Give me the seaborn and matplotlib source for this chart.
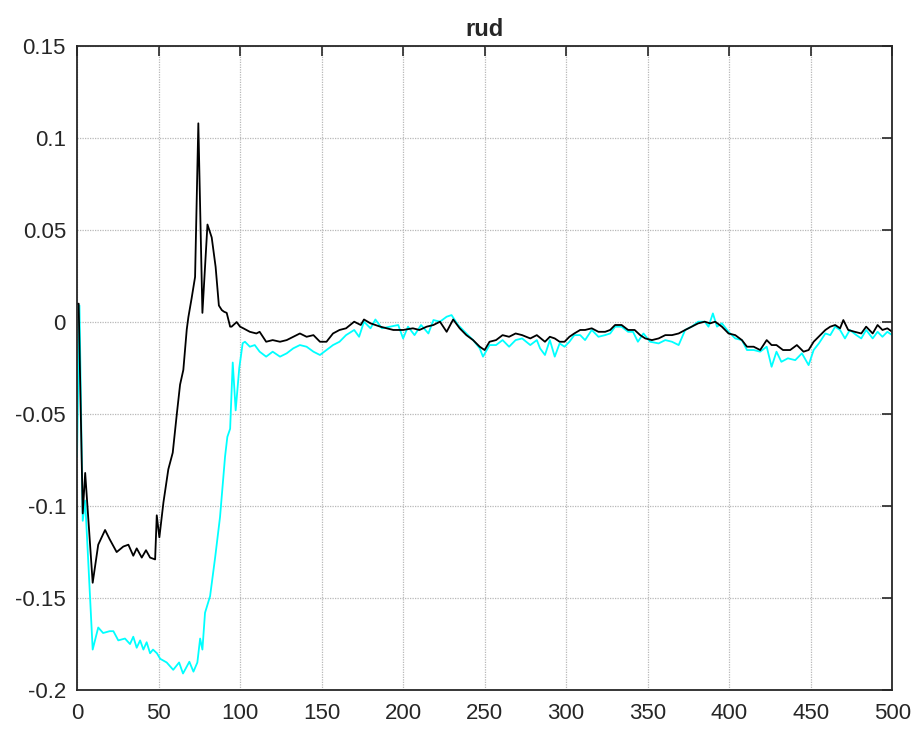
import numpy as np
import pandas as pd
import matplotlib
matplotlib.use("Agg")
import matplotlib.pyplot as plt
import seaborn as sns

# valores
black_t = [0, 1, 3.5, 5, 9.6, 13, 17.2, 20, 24.3, 28.4, 31.5, 34.5, 36.6, 39.7, 42.3, 44.8,
           47.9, 48.9, 50.5, 53, 56, 58.7, 61.2, 63.2, 65.2, 67.3, 68.3, 70.3, 72.4, 74.4,
           76.9, 80, 82.6, 85, 87, 88.8, 90.2, 91.8, 93.9,
           94.8, 97.9, 100, 102, 106, 110, 112, 116, 120, 124.5, 128.6, 132.6, 136.7, 140.8,
           145, 149, 153, 157, 161, 165, 170, 174, 176, 180, 186, 190, 194, 200, 206, 210,
           214.5, 218.6, 222.6, 226.7, 230.7, 234.7, 238.8, 242.9, 247, 250, 253, 257, 261,
           265, 269, 273, 278, 282,
           287, 290, 293, 296, 299, 302, 305, 308.6, 311.6, 315.7, 319.8, 323.9, 327, 330,
           334, 338, 342, 345.4, 348.5, 352.6, 356.7, 360.8, 364.9, 369, 373, 377, 381, 385,
           388.3, 391.4, 395.5, 399.6, 403.7, 407.8, 410.9, 415, 419, 423, 426, 429, 433,
           437.4, 441.5, 445.6, 448.7, 451.8, 455.9, 459, 462, 465, 468, 470, 473, 477, 481,
           484, 488, 491, 494, 497, 500]
black_v = [0.0098, 0.010, -0.104, -0.082, -0.1417, -0.121, -0.113, -0.118, -0.125, -0.122,
           -0.121, -0.127, -0.123, -0.128, -0.124, -0.128, -0.129, -0.105, -0.117, -0.098,
           -0.080, -0.071, -0.050, -0.034, -0.026, -0.004, 0.0027, 0.013, 0.0245, 0.108,
           0.005, 0.053, 0.046, 0.030, 0.009, 0.0065, 0.0056, 0.005, -0.0025,
           -0.0025, 0.0, -0.0025, -0.0034, -0.0053, -0.0062, -0.0053, -0.0107, -0.0098,
           -0.0107, -0.0098, -0.0080, -0.0062, -0.0080, -0.0071, -0.0107, -0.0107, -0.0062,
           -0.0043, -0.0034, 0.0002, -0.0016, 0.0014, -0.0007, -0.0025, -0.0034, -0.0043,
           -0.0043, -0.0034, -0.0043, -0.0025, -0.0016, 0.0002, -0.0053, 0.0014, -0.0034,
           -0.0071, -0.0098, -0.0134, -0.0152, -0.0107, -0.0098, -0.0071, -0.0080, -0.0062,
           -0.0071, -0.0089, -0.0071,
           -0.0107, -0.0080, -0.0089, -0.0107, -0.0107, -0.0080, -0.0062, -0.0043, -0.0043,
           -0.0034, -0.0053, -0.0053, -0.0043, -0.0016, -0.0016, -0.0043, -0.0043, -0.0071,
           -0.0089, -0.0098, -0.0089, -0.0071, -0.0071, -0.0062, -0.0043, -0.0025, -0.0007,
           0.0002, -0.0007, 0.0002, -0.0025, -0.0062, -0.0071, -0.0098, -0.0134, -0.0134,
           -0.0152, -0.0098, -0.0125, -0.0125, -0.0152, -0.0152, -0.0125, -0.0161, -0.0152,
           -0.0107, -0.0071, -0.0043, -0.0025, -0.0016, -0.0034, 0.0011, -0.0043, -0.0053,
           -0.0062, -0.0025, -0.0062, -0.0016, -0.0043, -0.0034, -0.0053]

cyan_t = [0, 1.5, 3.5, 5, 9.6, 13, 16, 20, 22.3, 25.3, 29.4, 32.5, 34.5, 36.6, 38.7, 40.7,
          42.7, 44.8, 46.6, 49, 51, 55, 59, 62.6, 65, 68.9, 71.4, 73.8, 75.5, 76.9, 78.5,
          81.6, 84.7, 87.7, 90.8, 92.2, 93.9, 95.5, 97.3, 99.5, 101.6,
          103, 106, 109, 112, 116, 120, 124.5, 128.6, 132.6, 136.7, 140.8, 145, 149, 153,
          157, 161, 165, 170, 173, 176, 180, 183, 187, 192, 197, 200, 203, 207, 211, 215.5,
          218.6, 222.6, 226.7, 229.7, 233.7, 238.8, 242.9, 247, 249, 253, 257, 261, 265, 269,
          273, 278, 282,
          284, 287, 290, 293, 296, 299, 302, 305, 308.6, 311.6, 315.7, 319.8, 323.9, 327,
          330, 334, 338, 341, 344, 347.4, 351.5, 356.7, 360.8, 364.9, 369, 373, 377, 381,
          385, 387.3, 390, 392.5, 395.5, 399.6, 403.7, 407.8, 410.9, 415, 419, 423, 426,
          429, 432, 436, 440.5, 444.6, 448.7, 451.8, 455, 459, 462, 465, 468, 471, 474, 478,
          481, 484, 488, 491, 494, 497, 500]
cyan_v = [-0.073, 0.009, -0.108, -0.097, -0.178, -0.166, -0.169, -0.168, -0.168, -0.173,
          -0.172, -0.175, -0.171, -0.177, -0.173, -0.178, -0.174, -0.180, -0.178, -0.180,
          -0.183, -0.185, -0.189, -0.185, -0.191, -0.1846, -0.190, -0.185, -0.172, -0.178,
          -0.158, -0.149, -0.128, -0.106, -0.073, -0.0624, -0.058, -0.022, -0.048, -0.025,
          -0.0115,
          -0.0107, -0.0134, -0.0125, -0.0161, -0.0188, -0.0161, -0.0188, -0.0170, -0.0143,
          -0.0125, -0.0134, -0.0161, -0.0179, -0.0152, -0.0125, -0.0107, -0.0071, -0.0043,
          -0.0080, 0.0002, -0.0034, 0.0014, -0.0034, -0.0025, -0.0016, -0.0089, -0.0025,
          -0.0071, -0.0016, -0.0062, 0.0011, 0.0002, 0.0029, 0.0038, -0.0016, -0.0062,
          -0.0098, -0.0143, -0.0188, -0.0125, -0.0125, -0.0098, -0.0134, -0.0098, -0.0089,
          -0.0125, -0.0098,
          -0.0143, -0.0179, -0.0098, -0.0188, -0.0116, -0.0134, -0.0107, -0.0071, -0.0071,
          -0.0098, -0.0043, -0.0080, -0.0071, -0.0062, -0.0025, -0.0025, -0.0053, -0.0053,
          -0.0107, -0.0062, -0.0107, -0.0116, -0.0098, -0.0107, -0.0125, -0.0043, -0.0025,
          0.0002, 0.0002, -0.0025, 0.0047, -0.0025, -0.0007, -0.0053, -0.0089, -0.0098,
          -0.0152, -0.0152, -0.0161, -0.0134, -0.0243, -0.0161, -0.0216, -0.0197, -0.0207,
          -0.0170, -0.0234, -0.0152, -0.0116, -0.0062, -0.0071, -0.0025, -0.0043, -0.0089,
          -0.0043, -0.0071, -0.0089, -0.0043, -0.0089, -0.0053, -0.0080, -0.0053, -0.0071]

x_ticks = [0, 50, 100, 150, 200, 250, 300, 350, 400, 450, 500]
y_ticks = [-0.2, -0.15, -0.1, -0.05, 0, 0.05, 0.1, 0.15]
y_labels = ["-0.2", "-0.15", "-0.1", "-0.05", "0", "0.05", "0.1", "0.15"]

sns.set_style("white")
plt.rcParams['font.family'] = ['Liberation Sans', 'DejaVu Sans']
plt.rcParams['axes.unicode_minus'] = False

df_black = pd.DataFrame({"t": black_t, "v": black_v})
df_cyan = pd.DataFrame({"t": cyan_t, "v": cyan_v})

fig = plt.figure(figsize=(9.17, 7.31), dpi=100)
ax = fig.add_axes([0.084, 0.056, 0.889, 0.881])

sns.lineplot(data=df_cyan, x="t", y="v", color="#00FFFF", linewidth=1.3,
             estimator=None, sort=False, ax=ax)
sns.lineplot(data=df_black, x="t", y="v", color="black", linewidth=1.3,
             estimator=None, sort=False, ax=ax)

ax.set_xlim(0, 500)
ax.set_ylim(-0.2, 0.15)
ax.set_xticks(x_ticks)
ax.set_yticks(y_ticks)
ax.set_yticklabels(y_labels)
ax.set_xlabel("")
ax.set_ylabel("")
ax.set_title("rud", fontsize=17, fontweight="bold", pad=7)

ax.grid(True, linestyle=(0, (1, 1)), color="#b8b8b8", linewidth=0.9)
ax.set_axisbelow(True)
for s in ax.spines.values():
    s.set_color("#262626")
    s.set_linewidth(1.3)
ax.tick_params(direction="in", length=7, width=1.2, color="#262626",
               top=True, right=True, labelsize=16, labelcolor="#262626")
ax.tick_params(axis="x", pad=9)
ax.tick_params(axis="y", pad=8)

plt.savefig("out.png", dpi=100)
